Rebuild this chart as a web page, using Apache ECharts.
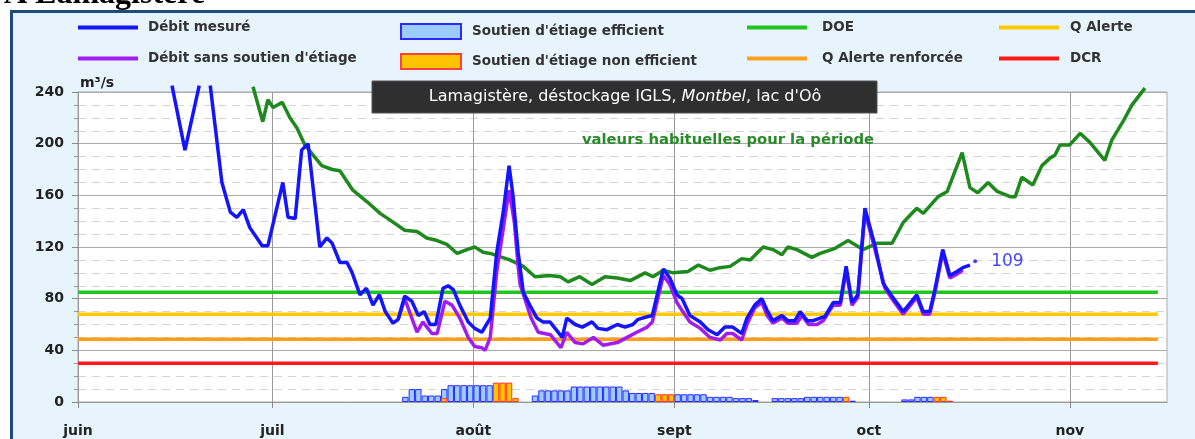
<!doctype html>
<html lang="fr">
<head>
    <meta charset="UTF-8">
    <title>Lamagistère</title>
    <style>
        * {
            margin: 0;
            padding: 0;
        }

        body {
            background: #fff;
        }

        #chart {
            width: 1195px;
            height: 439px;
        }
    </style>
</head>
<body>
<div id="chart"></div>
<script src="https://cdn.jsdelivr.net/npm/echarts@6/dist/echarts.min.js"></script>
<script type="application/javascript">
    // x = jours depuis le 1er juin
    const monthDays = [0, 30, 61, 92, 122, 153];
    const monthNames = ['juin', 'juil', 'août', 'sept', 'oct', 'nov'];

    const debitMesure = [
        [14.5, 245], [16.5, 195], [18.7, 245], [19.5, '-'], [20.4, 245], [22.2, 170], [23.5, 147], [24.5, 143],
        [25.5, 149], [26.5, 135], [27.6, 127], [28.4, 121], [29.3, 121], [31.6, 170], [32.4, 143], [33.5, 142],
        [34.5, 195], [35.5, 200], [37.3, 120], [38.4, 127], [39.2, 123], [40.4, 108], [41.5, 108], [42.3, 100],
        [43.5, 83], [44.5, 88], [45.5, 75], [46.5, 83], [47.4, 70], [48.6, 61], [49.4, 64], [50.4, 82],
        [51.5, 78], [52.5, 67], [53.4, 70], [54.3, 60], [55.2, 60], [56.3, 88], [57.1, 90], [57.9, 87],
        [58.9, 75], [60.2, 62], [61.2, 57], [62.3, 54], [63.6, 65], [64.6, 116], [65.6, 147], [66.5, 183],
        [67.1, 160], [67.9, 116], [68.7, 85], [69.7, 75], [70.8, 65], [71.7, 62], [72.8, 62], [73.6, 57],
        [74.7, 50], [75.4, 65], [76.7, 60], [77.8, 58], [79.3, 62], [80.2, 57], [81.6, 56], [83.2, 60],
        [84.4, 58], [85.6, 60], [86.4, 64], [87.8, 66], [88.6, 67], [90.3, 103], [91.3, 96], [92.4, 83],
        [93.2, 80], [94.4, 67], [96.0, 62], [97.2, 56], [98.6, 52], [99.8, 58], [101.0, 58], [102.4, 53],
        [103.2, 65], [104.4, 75], [105.5, 80], [106.3, 71], [107.2, 63], [108.6, 67], [109.5, 63], [110.6, 63],
        [111.4, 70], [112.5, 63], [113.4, 63], [114.5, 65], [115.2, 66], [116.5, 77], [117.6, 77], [118.5, 105],
        [119.4, 77], [120.3, 83], [121.4, 150], [123.0, 120], [124.2, 92], [125.7, 81], [127.3, 70], [129.4, 83],
        [130.4, 70], [131.4, 70], [132.2, 87], [133.4, 118], [134.5, 98], [135.6, 101], [136.5, 104], [137.6, 106]
    ];
    const dernierDebit = [[138.4, 109]];

    const debitSansSoutien = [
        [49.4, 64], [50.4, 80], [52.3, 54], [53.2, 62], [54.6, 53], [55.4, 53], [56.6, 78], [57.7, 75],
        [58.9, 65], [60.2, 50], [61.2, 43], [62.3, 42], [62.8, 40], [63.6, 50], [64.6, 101], [66.5, 164],
        [67.3, 140], [67.9, 105], [68.2, 91], [69.9, 65], [71.0, 54], [72.9, 52], [74.5, 42], [75.4, 54],
        [76.7, 46], [77.9, 45], [79.5, 50], [81.0, 44], [83.2, 46], [84.7, 50], [86.2, 54], [87.8, 58],
        [88.6, 62], [90.3, 98], [91.3, 91], [92.4, 77], [93.3, 70], [94.4, 62], [96.0, 57], [97.5, 50],
        [99.1, 48], [100.1, 53], [101.0, 53], [102.4, 48], [103.2, 60], [104.4, 73], [105.5, 77], [106.3, 67],
        [107.2, 61], [108.6, 65], [109.5, 61], [110.9, 61], [111.7, 67], [112.7, 60], [114.0, 60], [115.0, 63],
        [116.5, 75], [117.6, 75], [118.5, 102], [119.4, 75], [120.3, 81], [121.4, 147], [123.0, 117], [124.5, 88],
        [125.7, 79], [127.3, 68], [129.4, 81], [130.4, 68], [131.4, 68], [132.2, 85], [133.4, 116], [134.5, 96],
        [135.6, 99], [136.5, 102]
    ];

    const valeursHabituelles = [
        [27.0, 244], [28.5, 217], [29.3, 234], [30.1, 228], [31.5, 232], [32.7, 220], [33.8, 212], [35.0, 199],
        [36.3, 191], [37.6, 183], [39.2, 180], [40.4, 179], [42.4, 164], [44.6, 155], [46.6, 146], [48.1, 141],
        [50.4, 133], [52.3, 132], [53.8, 127], [55.4, 125], [56.9, 122], [58.5, 115], [60.0, 118], [61.2, 120],
        [62.5, 116], [63.6, 115], [66.6, 110], [68.7, 105], [70.5, 97], [72.8, 98], [74.4, 97], [75.6, 93],
        [77.4, 97], [79.3, 91], [81.3, 97], [83.2, 96], [85.2, 94], [87.5, 100], [88.7, 97], [90.3, 102],
        [91.8, 100], [94.1, 101], [95.7, 106], [97.5, 102], [99.0, 104], [100.6, 105], [102.4, 111], [103.7, 110],
        [105.7, 120], [107.2, 118], [108.6, 114], [109.5, 120], [110.9, 118], [113.2, 112], [114.5, 115], [116.8, 119],
        [118.8, 125], [121.1, 118], [123.3, 123], [125.6, 123], [127.3, 139], [129.4, 150], [130.4, 146], [132.7, 159],
        [134.1, 163], [136.4, 193], [137.6, 166], [138.8, 162], [140.4, 170], [141.8, 163], [143.8, 159], [144.6, 159],
        [145.6, 174], [147.3, 168], [148.7, 183], [150.0, 189], [150.7, 191], [151.5, 199], [153.0, 199], [154.6, 208],
        [156.1, 201], [158.4, 187], [159.5, 203], [161.2, 217], [162.6, 230], [164.6, 243]
    ];

    // barres journalières (centre du jour)
    const soutienEfficient = [
        [50.5, 4], [51.5, 10], [52.5, 10], [53.5, 5], [54.5, 5], [55.5, 5], [56.5, 10], [57.5, 13], [58.5, 13],
        [59.5, 13], [60.5, 13], [61.5, 13], [62.5, 13], [63.5, 13],
        [70.5, 5], [71.5, 9], [72.5, 9], [73.5, 9], [74.5, 9], [75.5, 9], [76.5, 12], [77.5, 12], [78.5, 12],
        [79.5, 12], [80.5, 12], [81.5, 12], [82.5, 12], [83.5, 12], [84.5, 9], [85.5, 7], [86.5, 7], [87.5, 7],
        [88.5, 7], [92.5, 6], [93.5, 6], [94.5, 6], [95.5, 6], [96.5, 6], [97.5, 4], [98.5, 4], [99.5, 4],
        [100.5, 4], [101.5, 3], [102.5, 3], [103.5, 3], [104.5, 1.5],
        [107.5, 3], [108.5, 3], [109.5, 3], [110.5, 3], [111.5, 3], [112.5, 4], [113.5, 4], [114.5, 4],
        [115.5, 4], [116.5, 4], [117.5, 4], [119.5, 1],
        [127.5, 2], [128.5, 2], [129.5, 4], [130.5, 4], [131.5, 4]
    ];
    const soutienNonEfficient = [
        [56.5, 3], [64.5, 15], [65.5, 15], [66.5, 15], [67.5, 3], [89.5, 6], [90.5, 6], [91.5, 6],
        [118.5, 4], [132.5, 4], [133.5, 4], [134.5, 1]
    ];

    const DOE = 85;
    const Q_ALERTE = 68;
    const Q_ALERTE_RENF = 48.5;
    const DCR = 30;
    const seuilFin = 166.6;

    const FONT = 'DejaVu Sans';

    const seuil = function (name, value, color) {
        return {
            name: name,
            type: 'line',
            data: [[0, value], [seuilFin, value]],
            showSymbol: false,
            silent: true,
            color: color,
            lineStyle: {color: color, width: 3.5},
            z: 2
        };
    }

    const leg = function (name, left, top, itemStyle, h, pad) {
        return {
            data: [{name: name, icon: 'rect', itemStyle: itemStyle}],
            left: left,
            top: top,
            padding: 0,
            itemWidth: 60,
            itemHeight: h,
            selectedMode: false,
            textStyle: {fontFamily: FONT, fontSize: 13.5, fontWeight: 'bold', color: '#333', padding: [0, 0, 0, pad]}
        };
    }

    const option = {
        animation: false,
        backgroundColor: '#fff',
        textStyle: {fontFamily: FONT},
        graphic: [
            {
                type: 'text', x: 4, y: -21, z: -20,
                style: {text: 'A Lamagistère', font: 'bold 32px "Liberation Serif"', fill: '#000'}
            },
            {
                type: 'rect', z: -10,
                shape: {x: 11.5, y: 11.5, width: 1300, height: 600},
                style: {fill: '#e8f4fc', stroke: '#1f4a7c', lineWidth: 3}
            },
            {
                type: 'rect', z: 100,
                shape: {x: 372, y: 81, width: 505, height: 32},
                style: {fill: '#2f2f2f', stroke: '#555', lineWidth: 1}
            },
            {
                type: 'text', z: 101, x: 625, y: 97,
                style: {
                    text: "Lamagistère, déstockage IGLS, {i|Montbel}, lac d'Oô",
                    fill: '#fff', fontFamily: FONT, fontSize: 16, align: 'center', verticalAlign: 'middle',
                    rich: {i: {fontStyle: 'italic', fill: '#fff', fontFamily: FONT, fontSize: 16}}
                }
            },
            {
                type: 'text', z: 101, x: 728, y: 140,
                style: {
                    text: 'valeurs habituelles pour la période',
                    fill: '#2a8a2a', fontFamily: FONT, fontSize: 14.8, fontWeight: 'bold',
                    align: 'center', verticalAlign: 'middle'
                }
            }
        ],
        legend: [
            leg('Débit mesuré', 78, 20.5, {color: '#1414ff', borderWidth: 0}, 4, 5),
            leg("Débit sans soutien d'étiage", 78, 51.5, {color: '#a21cf2', borderWidth: 0}, 4, 5),
            leg("Soutien d'étiage efficient", 400, 23, {color: '#9ccbff', borderColor: '#2a2aff', borderWidth: 2}, 15, 6),
            leg("Soutien d'étiage non efficient", 400, 53, {color: '#ffc400', borderColor: '#ff4040', borderWidth: 2}, 15, 6),
            leg('DOE', 747, 20.5, {color: '#22c422', borderWidth: 0}, 4, 10),
            leg('Q Alerte renforcée', 747, 51.5, {color: '#ff9d1e', borderWidth: 0}, 4, 10),
            leg('Q Alerte', 999, 20.5, {color: '#ffc800', borderWidth: 0}, 4, 6),
            leg('DCR', 999, 51.5, {color: '#ff1a1a', borderWidth: 0}, 4, 6)
        ],
        grid: {
            left: 78,
            right: 28,
            top: 92,
            bottom: 37,
            show: true,
            backgroundColor: '#fff',
            borderColor: '#aaa',
            borderWidth: 1
        },
        xAxis: {
            type: 'value',
            min: 0,
            max: 168,
            axisLine: {show: true, lineStyle: {color: '#999'}},
            axisTick: {show: true, length: 6, customValues: monthDays, lineStyle: {color: '#888'}},
            axisLabel: {
                customValues: monthDays,
                margin: 22,
                fontFamily: FONT,
                fontSize: 14,
                fontWeight: 'bold',
                color: '#222',
                formatter: function (v) {
                    const i = monthDays.indexOf(v);
                    return i >= 0 ? monthNames[i] : '';
                }
            },
            splitLine: {show: true, lineStyle: {color: '#999', width: 1}}
        },
        yAxis: {
            type: 'value',
            min: 0,
            max: 240,
            interval: 40,
            name: 'm³/s',
            nameLocation: 'end',
            nameGap: 2,
            nameTextStyle: {
                fontFamily: FONT, fontSize: 14, fontWeight: 'bold', color: '#222',
                align: 'left', verticalAlign: 'bottom', padding: [0, 0, 0, 2]
            },
            axisLine: {show: true, lineStyle: {color: '#999'}},
            axisTick: {show: true, length: 6, lineStyle: {color: '#888'}},
            minorTick: {show: true, splitNumber: 4, length: 4, lineStyle: {color: '#999'}},
            axisLabel: {margin: 14, fontFamily: FONT, fontSize: 14, fontWeight: 'bold', color: '#222'},
            splitLine: {show: true, lineStyle: {color: '#aaa', width: 1.2}},
            minorSplitLine: {show: true, lineStyle: {color: '#d4d4d4', type: [8, 6]}}
        },
        series: [
            seuil('DOE', DOE, '#22c422'),
            seuil('Q Alerte', Q_ALERTE, '#ffc800'),
            seuil('Q Alerte renforcée', Q_ALERTE_RENF, '#ff9d1e'),
            seuil('DCR', DCR, '#ff1a1a'),
            {
                name: "Soutien d'étiage efficient",
                type: 'bar',
                data: soutienEfficient,
                barWidth: 6.4,
                barGap: '-100%',
                silent: true,
                color: '#9ccbff',
                itemStyle: {color: '#9ccbff', borderColor: '#2a2aff', borderWidth: 1},
                z: 3
            },
            {
                name: "Soutien d'étiage non efficient",
                type: 'bar',
                data: soutienNonEfficient,
                barWidth: 6.4,
                barGap: '-100%',
                silent: true,
                color: '#ffc400',
                itemStyle: {color: '#ffc400', borderColor: '#ff3030', borderWidth: 1},
                z: 4
            },
            {
                name: 'valeurs habituelles pour la période',
                type: 'line',
                data: valeursHabituelles,
                showSymbol: false,
                clip: false,
                color: '#1e8a1e',
                lineStyle: {color: '#1e8a1e', width: 3.5},
                z: 5
            },
            {
                name: "Débit sans soutien d'étiage",
                type: 'line',
                data: debitSansSoutien,
                showSymbol: false,
                color: '#a21cf2',
                lineStyle: {color: '#a21cf2', width: 3.5},
                z: 6
            },
            {
                name: 'Débit mesuré',
                type: 'line',
                data: debitMesure,
                showSymbol: false,
                clip: false,
                connectNulls: false,
                color: '#1414ff',
                lineStyle: {color: '#1414ff', width: 3.5},
                z: 7
            },
            {
                name: 'dernière valeur',
                type: 'scatter',
                data: dernierDebit,
                symbolSize: 4,
                color: '#1414ff',
                label: {
                    show: true,
                    position: 'right',
                    distance: 14,
                    formatter: function (p) {
                        return p.value[1];
                    },
                    fontFamily: FONT,
                    fontSize: 17,
                    color: '#1414ff'
                },
                z: 8
            }
        ]
    };

    const chart = echarts.init(document.getElementById('chart'));
    chart.setOption(option);
</script>
</body>
</html>
